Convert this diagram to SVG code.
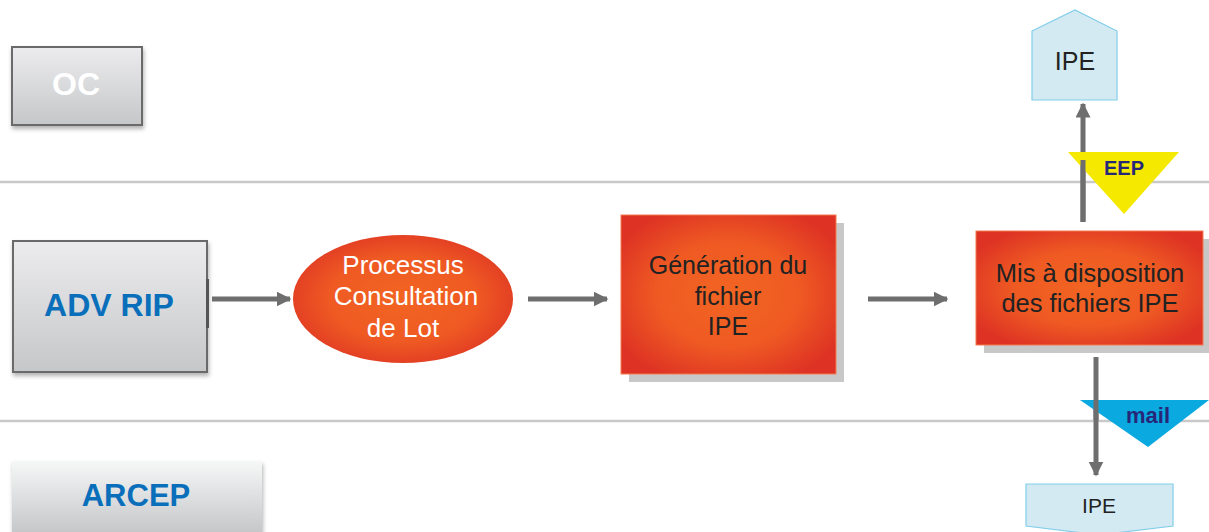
<svg xmlns="http://www.w3.org/2000/svg" width="1209" height="532" viewBox="0 0 1209 532">
<style>
.sep{stroke:#c9c9c9;stroke-width:2.5}
.gbox{fill:url(#gray);stroke:#6b6b6b;stroke-width:2}
.lbl{font-family:"Liberation Sans",Arial,sans-serif;text-anchor:middle}
.conn{stroke:#6e6e6e;stroke-width:5;fill:none}
.shadow{fill:#c8c8c8}
.ipe{fill:#d3eaf2;stroke:#82cdea;stroke-width:1.2}
</style>
<defs>
<linearGradient id="gray" x1="0" y1="0" x2="0" y2="1">
<stop offset="0" stop-color="#ececee"/>
<stop offset="1" stop-color="#c6c7c9"/>
</linearGradient>
<linearGradient id="gray2" x1="0" y1="0" x2="0" y2="1">
<stop offset="0" stop-color="#f6f7f7"/>
<stop offset="1" stop-color="#c3c4c6"/>
</linearGradient>
<radialGradient id="orange" cx="0.5" cy="0.5" r="0.6">
<stop offset="0" stop-color="#f26522"/>
<stop offset="0.55" stop-color="#ef5a23"/>
<stop offset="1" stop-color="#dd3224"/>
</radialGradient>
<filter id="sh" x="-10%" y="-10%" width="130%" height="130%">
<feDropShadow dx="1" dy="3" stdDeviation="2" flood-color="#000" flood-opacity="0.3"/>
</filter>
<marker id="ah" viewBox="0 0 10 10" refX="9" refY="5" markerWidth="3" markerHeight="3" orient="auto" markerUnits="strokeWidth">
<path d="M0,0 L10,5 L0,10 z" fill="#6e6e6e"/>
</marker>
</defs>

<line class="sep" x1="0" y1="182" x2="1209" y2="182"/>
<line class="sep" x1="0" y1="421" x2="1209" y2="421"/>

<g id="oc">
<rect class="gbox" x="12" y="47" width="130" height="78" filter="url(#sh)"/>
<text class="lbl" x="76" y="95" font-size="32" font-weight="bold" fill="#ffffff">OC</text>
</g>

<g id="adv-rip">
<rect class="gbox" x="13" y="241" width="194" height="131" filter="url(#sh)"/>
<rect x="206" y="279" width="3" height="49" fill="#555"/>
<text class="lbl" x="109" y="316" font-size="32" font-weight="bold" fill="#0a6fbb">ADV RIP</text>
</g>

<g id="arcep">
<rect x="12" y="461" width="250" height="76" fill="url(#gray2)" filter="url(#sh)"/>
<text class="lbl" x="136" y="506" font-size="31" font-weight="bold" fill="#0a6fbb">ARCEP</text>
</g>

<g id="processus">
<ellipse cx="403" cy="299" rx="110" ry="64" fill="url(#orange)"/>
<text class="lbl" font-size="26" fill="#ffffff"><tspan x="403" y="274">Processus</tspan><tspan x="406" y="305">Consultation</tspan><tspan x="403" y="337">de Lot</tspan></text>
</g>

<g id="generation">
<rect class="shadow" x="629" y="223" width="215" height="159"/>
<rect x="621" y="215" width="215" height="159" fill="url(#orange)" stroke="#f47a50" stroke-width="1"/>
<text class="lbl" font-size="25" fill="#222"><tspan x="728" y="274">Génération du</tspan><tspan x="728" y="305">fichier</tspan><tspan x="728" y="335">IPE</tspan></text>
</g>

<g id="mise-a-disposition">
<rect class="shadow" x="984" y="239" width="225" height="114"/>
<rect x="976" y="231" width="227" height="114" fill="url(#orange)" stroke="#f47a50" stroke-width="1"/>
<text class="lbl" font-size="25.5" fill="#222"><tspan x="1090" y="282">Mis à disposition</tspan><tspan x="1090" y="312">des fichiers IPE</tspan></text>
</g>

<g id="ipe-top">
<path class="ipe" d="M1032,31 L1075,10 L1117,31 L1117,100 L1032,100 Z"/>
<text class="lbl" x="1075" y="70" font-size="25" fill="#222">IPE</text>
</g>

<g id="ipe-bottom">
<path class="ipe" d="M1026,484 L1173,484 L1173,526 L1099,535 L1026,526 Z"/>
<text class="lbl" x="1099" y="513" font-size="21" fill="#222">IPE</text>
</g>

<g id="connectors">
<line class="conn" x1="212" y1="299" x2="290" y2="299" marker-end="url(#ah)"/>
<line class="conn" x1="528" y1="299" x2="607" y2="299" marker-end="url(#ah)"/>
<line class="conn" x1="868" y1="299" x2="947" y2="299" marker-end="url(#ah)"/>
<line class="conn" x1="1083" y1="222" x2="1083" y2="104" marker-end="url(#ah)"/>
<line class="conn" x1="1096" y1="357" x2="1096" y2="475" marker-end="url(#ah)"/>
</g>

<g id="eep">
<path d="M1068,152 L1179,152 L1124,214 Z" fill="#f5e900"/>
<line class="conn" x1="1083" y1="160" x2="1083" y2="222"/>
<text class="lbl" x="1124" y="175" font-size="20" font-weight="bold" fill="#27277a">EEP</text>
</g>

<g id="mail">
<path d="M1080,400 L1209,400 L1148,447 Z" fill="#0aa9e0"/>
<line class="conn" x1="1096" y1="400" x2="1096" y2="420"/>
<text class="lbl" x="1148" y="423" font-size="22" font-weight="bold" fill="#27277a">mail</text>
</g>
</svg>
